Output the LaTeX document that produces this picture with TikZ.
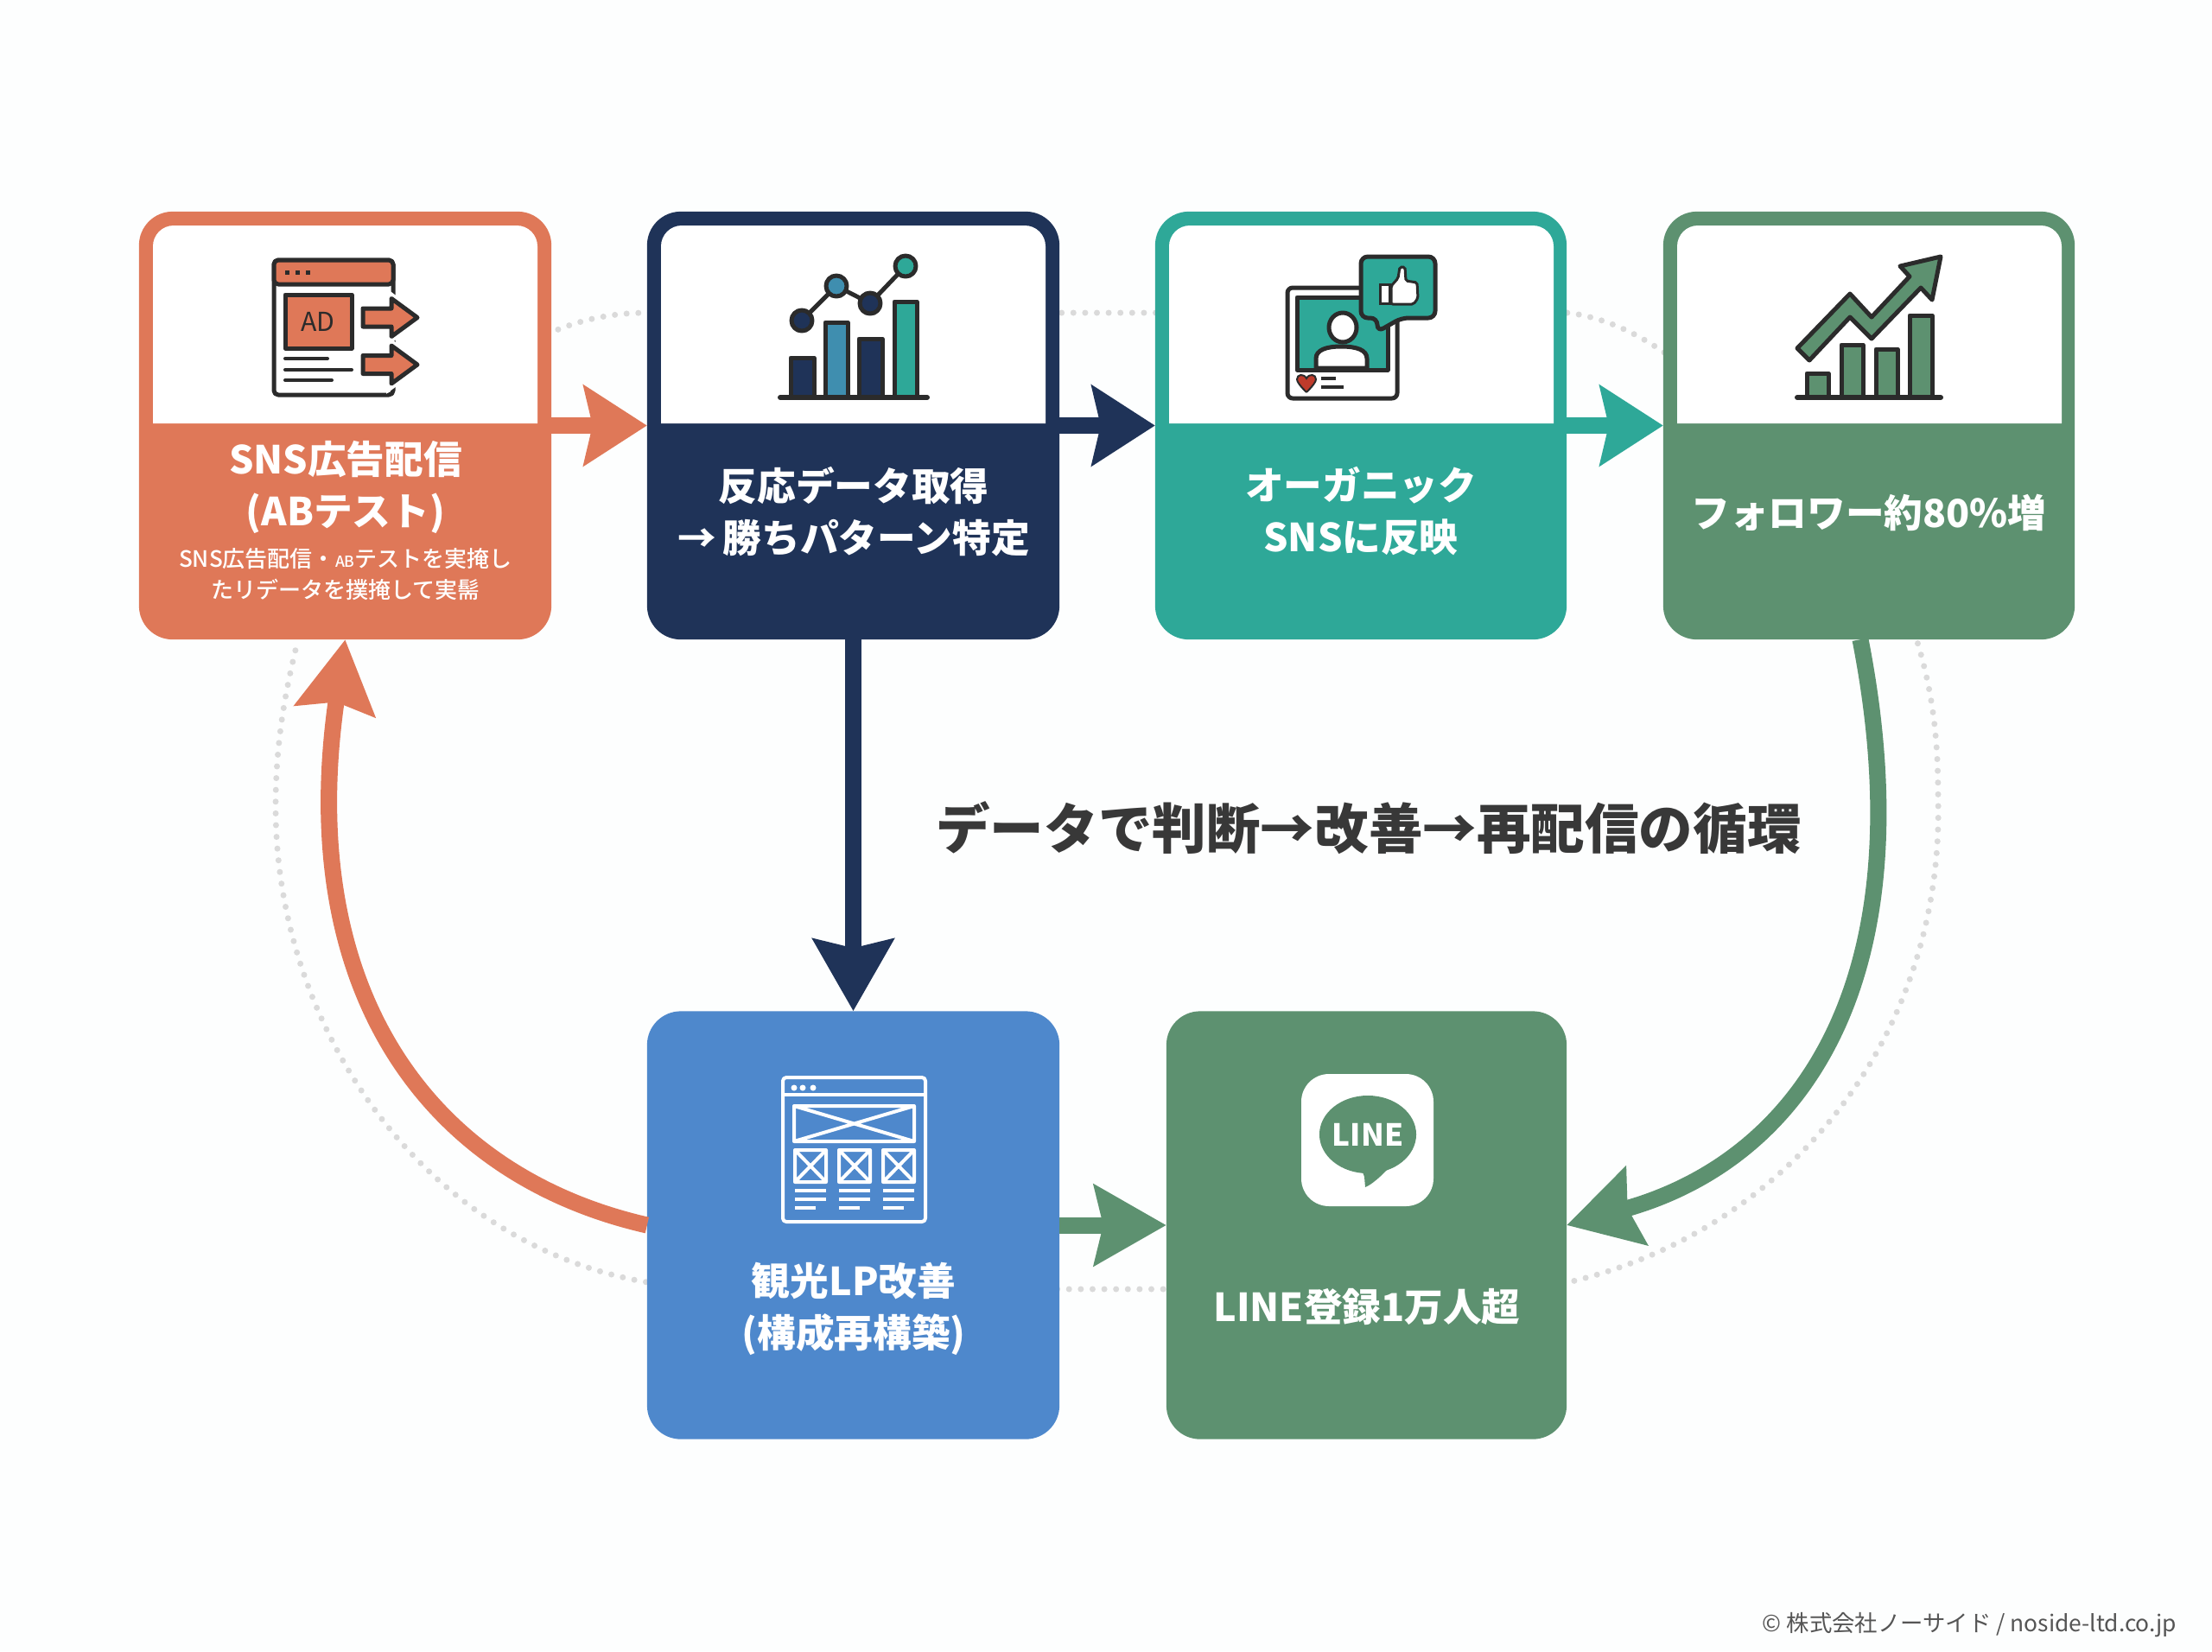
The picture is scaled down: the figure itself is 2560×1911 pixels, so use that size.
\documentclass[tikz,border=0pt]{standalone}
\usepackage{fontspec}
\setmainfont{Noto Sans CJK JP}
\newfontfamily\mediumfont{Noto Sans CJK JP Medium}
\usetikzlibrary{positioning, arrows.meta, calc}

\definecolor{pageWhite}{HTML}{FDFEFE}
\definecolor{adOrange}{HTML}{DF7858}
\definecolor{dataNavy}{HTML}{1F3358}
\definecolor{snsTeal}{HTML}{2EA898}
\definecolor{chartBlue}{HTML}{3F8EAF}
\definecolor{growGreen}{HTML}{5D9170}
\definecolor{lpBlue}{HTML}{4E88CC}
\definecolor{iconDark}{HTML}{2B2B2B}
\definecolor{heartRed}{HTML}{BF3B2B}
\definecolor{ringGray}{HTML}{DADADA}
\definecolor{headDark}{HTML}{383838}
\definecolor{footGray}{HTML}{555555}

\newcommand{\labelfont}{\fontsize{12.7}{17.07}\selectfont\bfseries}
\newcommand{\subfont}{\fontsize{7.4}{10.2}\selectfont\mediumfont}

\tikzset{
	card/.style={rectangle, rounded corners=0.39cm, minimum height=4.95cm, inner sep=0, outer sep=0},
	cardLabel/.style={text=white, align=center, font=\labelfont, inner sep=0},
	link/.style={line width=0.19cm, -{Stealth[length=0.73cm,width=0.92cm,inset=0.1cm]}},
	longLink/.style={line width=0.19cm, -{Stealth[length=0.83cm,width=0.92cm,inset=0.1cm]}},
	ring/.style={ringGray, line width=0.07cm, line cap=round, dash pattern=on 0pt off 0.136cm},
	iconLine/.style={draw=iconDark, line width=0.05cm, line join=round},
	wireLine/.style={draw=white, line width=0.04cm, line join=round}
}

\begin{document}
\begin{tikzpicture}[x=0.01cm, y=-0.01cm]
		\useasboundingbox (0,0) rectangle (2560,1911);
		\fill[pageWhite] (0,0) rectangle (2560,1911);
		
		%Dotted ring
		\draw[ring] (500,500) .. controls (560,420) and (640,362) .. (749,362) -- (1816,362) .. controls (1900,375) and (2000,430) .. (2218,740) .. controls (2240,810) and (2243,870) .. (2243,924) .. controls (2250,1200) and (2070,1425) .. (1815,1484) -- (1700,1492) -- (1226,1492) -- (749,1484) .. controls (490,1440) and (319,1190) .. (319,934) .. controls (319,860) and (330,800) .. (345,740);
		
		%Cards
		\node (adCard) at (399.5,492.5) [card, minimum width=4.77cm, fill=adOrange]{};
		\node (dataCard) at (987.5,492.5) [card, minimum width=4.77cm, fill=dataNavy]{};
		\node (snsCard) at (1575,492.5) [card, minimum width=4.76cm, fill=snsTeal]{};
		\node (followCard) at (2163,492.5) [card, minimum width=4.76cm, fill=growGreen]{};
		\node (lpCard) at (987.5,1418) [card, minimum width=4.77cm, fill=lpBlue]{};
		\node (lineCard) at (1581.5,1418) [card, minimum width=4.63cm, fill=growGreen]{};
		
		\foreach \panelX in {177,765,1353,1941}
			\fill[white] (\panelX,490) [rounded corners=0.24cm] -- (\panelX,261) -- ++(445,0) [sharp corners] -- ++(0,229) -- cycle;
		
		%Labels
		\node (adLabel) at (400,564) [cardLabel]{SNS広告配信\\(ABテスト)};
		\node (adNote) at (400,665) [cardLabel, font=\subfont]{SNS広告配信・{\fontsize{5}{5}\selectfont AB}テストを実掩し\\たリデータを撲掩して実髵};
		\node (dataLabel) at (988,592) [cardLabel]{反応データ取得\\→\hspace{0.08cm}勝ちパターン特定};
		\node (snsLabel) at (1575,592) [cardLabel]{オーガニック\\SNSに反映};
		\node (followLabel) at (2163,593) [cardLabel]{フォロワー約80\%増};
		\node (lpLabel) at (988,1515) [cardLabel]{観光LP改善\\(構成再構築)};
		\node (lineLabel) at (1582,1512) [cardLabel]{LINE登録1万人超};
		\node (loopTitle) at (1584,958) [text=headDark, font=\fontsize{17.8}{20}\selectfont\bfseries, inner sep=0]{データで判断→改善→再配信の循環};
		\node (footNote) at (2520,1881) [anchor=east, text=footGray, font=\fontsize{7.5}{9}\selectfont, inner sep=0]{© 株式会社ノーサイド / noside-ltd.co.jp};
		
		%AD icon
		\draw[iconLine, fill=white, rounded corners=0.05cm] (317,301) rectangle (455,457);
		\draw[iconLine, fill=adOrange, rounded corners=0.05cm] (317,329) |- (455,301) -- (455,329) -- cycle;
		\foreach \dotX in {332,344,356}
			\fill[iconDark] (\dotX-2.5,312.5) rectangle ++(5,5);
		\draw[iconLine, fill=adOrange] (330,341) rectangle (407,403);
		\node (adText) at (368,372) [text=iconDark, font=\fontsize{8.6}{10}\selectfont, inner sep=0]{AD};
		\draw[iconDark, line width=0.04cm, line cap=round] (330,415) -- (379,415) (330,428) -- (407,428) (330,440) -- (384,440);
		\foreach \arrowY in {367.5,422}
			\draw[iconLine, fill=adOrange, preaction={draw=white, line width=0.12cm}] (420,\arrowY-10.5) -- (453,\arrowY-10.5) -- (453,\arrowY-22) -- (483,\arrowY) -- (453,\arrowY+22) -- (453,\arrowY+10.5) -- (420,\arrowY+10.5) -- cycle;
		
		%Chart icon
		\draw[iconLine, fill=dataNavy] (915,460) rectangle (942,414);
		\draw[iconLine, fill=chartBlue] (955,460) rectangle (981,373);
		\draw[iconLine, fill=dataNavy] (994,460) rectangle (1021,392);
		\draw[iconLine, fill=snsTeal] (1035,460) rectangle (1061,349);
		\draw[iconDark, line width=0.06cm, line cap=round] (903,460) -- (1073,460);
		\draw[iconDark, line width=0.05cm] (928,371) -- (968,331) -- (1007,351) -- (1048,308);
		\draw[iconLine, fill=dataNavy] (928,371) circle [radius=0.12cm];
		\draw[iconLine, fill=chartBlue] (968,331) circle [radius=0.12cm];
		\draw[iconLine, fill=dataNavy] (1007,351) circle [radius=0.12cm];
		\draw[iconLine, fill=snsTeal] (1048,308) circle [radius=0.12cm];
		
		%Social icon
		\draw[iconLine, fill=white, rounded corners=0.06cm] (1490,333) rectangle (1617,461);
		\draw[iconLine, fill=snsTeal] (1501,344) rectangle (1606,428);
		\draw[iconLine, fill=white] (1523,426) -- (1523,415) .. controls (1523,405) and (1535,401) .. (1552,401) .. controls (1570,401) and (1582,405) .. (1582,415) -- (1582,426) -- cycle;
		\draw[iconLine, fill=white] (1554,379) ellipse [x radius=0.16cm, y radius=0.17cm];
		\draw[iconLine, fill=snsTeal, rounded corners=0.08cm] (1575,297) -- (1661,297) -- (1661,368) -- (1622,368) -- (1594,384) -- (1594,368) -- (1575,368) -- cycle;
		\draw[iconDark, line width=0.03cm, fill=white] (1597,329) rectangle (1608,351);
		\draw[iconDark, line width=0.03cm, fill=white, rounded corners=0.02cm] (1610,331) -- (1618,322) -- (1620,309) -- (1626,309) -- (1627,325) -- (1640,327) -- (1641,345) -- (1636,352) -- (1610,352) -- cycle;
		\draw[iconDark, line width=0.02cm, fill=heartRed] (1512,454) .. controls (1505,447) and (1501,442) .. (1501,439) .. controls (1501,433) and (1509,432) .. (1512,438) .. controls (1515,432) and (1523,433) .. (1523,439) .. controls (1523,442) and (1519,447) .. (1512,454);
		\draw[iconDark, line width=0.04cm] (1529,438) -- (1546,438) (1529,448) -- (1555,448);
		
		%Growth icon
		\draw[iconLine, fill=growGreen] (2091,460) rectangle (2116,432);
		\draw[iconLine, fill=growGreen] (2131,460) rectangle (2156,399);
		\draw[iconLine, fill=growGreen] (2171,460) rectangle (2196,404);
		\draw[iconLine, fill=growGreen] (2210,460) rectangle (2236,365);
		\draw[iconDark, line width=0.06cm, line cap=round] (2080,460) -- (2246,460);
		\draw[iconLine, fill=growGreen] (2080,403) -- (2141,340) -- (2166,367) -- (2210,320) -- (2199,308) -- (2246,297) -- (2236,347) -- (2223,333) -- (2166,392) -- (2141,367) -- (2094,417) -- cycle;
		
		%Wireframe icon
		\draw[wireLine, rounded corners=0.04cm] (906,1247) rectangle (1071,1414);
		\draw[wireLine] (906,1267) -- (1071,1267);
		\foreach \dotX in {919,929,941}
			\fill[white] (\dotX,1259) circle [radius=0.035cm];
		\draw[wireLine] (919,1280) rectangle (1058,1321) (919,1280) -- (1058,1321) (919,1321) -- (1058,1280);
		\foreach \boxX in {920,971,1022} {
			\draw[wireLine] (\boxX,1331) rectangle ++(36,37) (\boxX,1331) -- ++(36,37) (\boxX,1368) -- ++(36,-37);
			\draw[wireLine] (\boxX,1378) -- ++(36,0) (\boxX,1388) -- ++(36,0) (\boxX,1398) -- ++(24,0);
		}
		
		%LINE icon
		\fill[white, rounded corners=0.32cm] (1506,1243) rectangle (1659,1396);
		\fill[growGreen] (1583,1313) ellipse [x radius=0.56cm, y radius=0.45cm];
		\fill[growGreen] (1562,1345) .. controls (1572,1352) and (1578,1355) .. (1579,1362) -- (1580,1374) .. controls (1590,1370) and (1605,1355) .. (1618,1340) -- cycle;
		\node (lineText) at (1583,1313) [text=white, font=\fontsize{10}{12}\selectfont\bfseries, inner sep=0]{LINE};
		
		%Links
		\draw[link, adOrange] (adCard.east) -- (dataCard.west);
		\draw[link, dataNavy] (dataCard.east) -- (snsCard.west);
		\draw[link, snsTeal] (snsCard.east) -- (followCard.west);
		\draw[longLink, dataNavy] (dataCard.south) -- (lpCard.north);
		\draw[longLink, growGreen] (lpCard.east) -- (lineCard.west);
		\draw[longLink, adOrange] (lpCard.west) .. controls (499,1361) and (340,1150) .. (adCard.south);
		\draw[longLink, growGreen] ([xshift=-0.1cm]followCard.south) .. controls (2230,1135) and (2084,1343) .. (lineCard.east);
		
\end{tikzpicture}
\end{document}
